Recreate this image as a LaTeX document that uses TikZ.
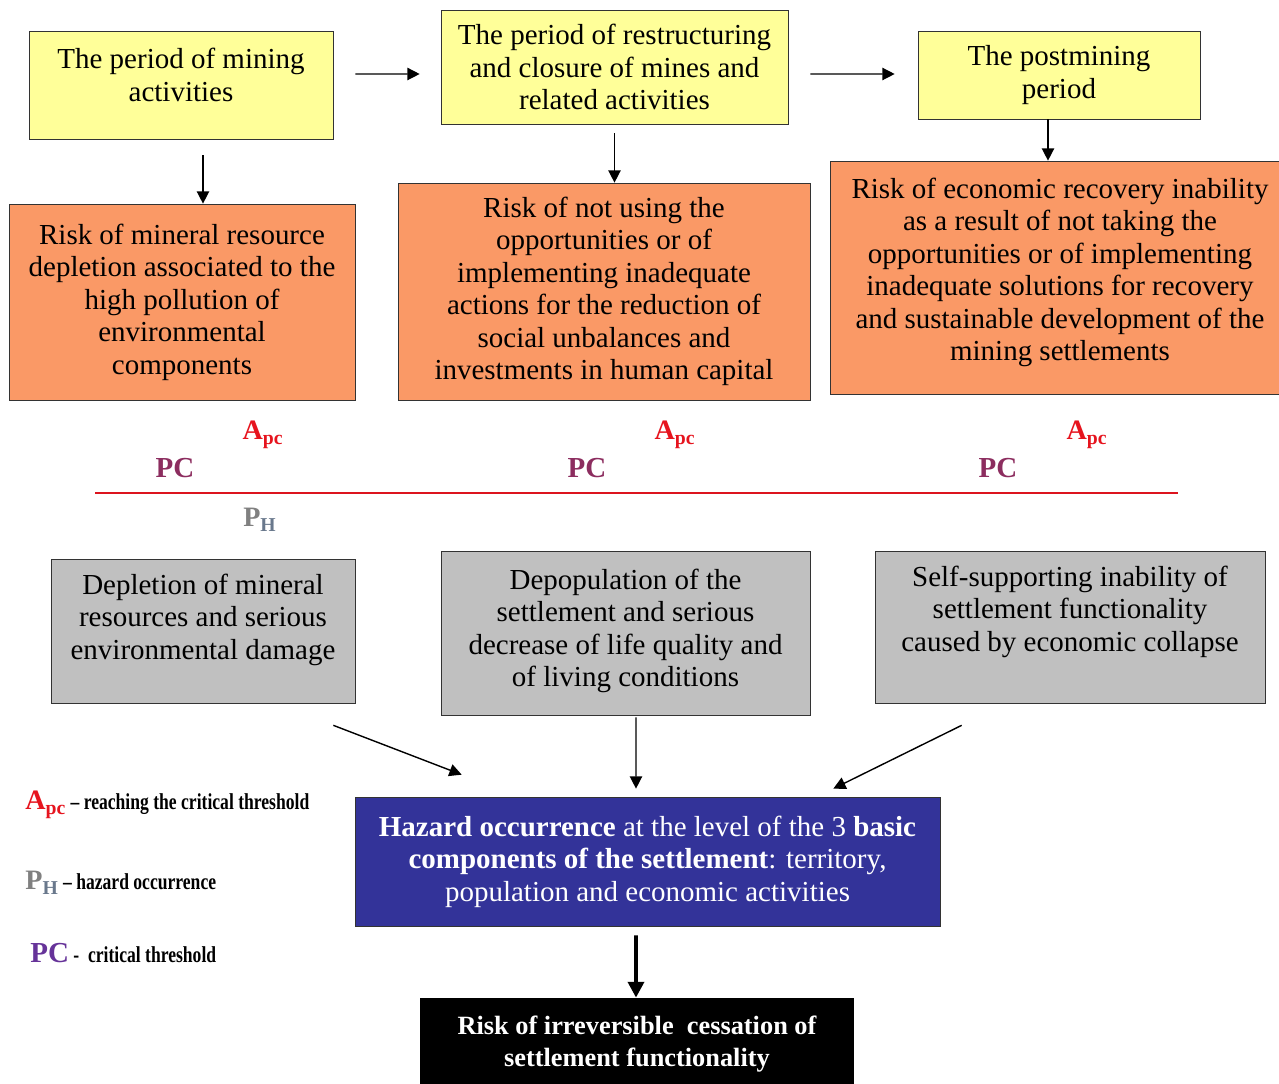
\documentclass[tikz,border=0pt]{standalone}
\usepackage{fontspec}
\setmainfont{Liberation Serif}
\newfontfamily\legendfont[FakeStretch=0.77]{Liberation Serif}
\usetikzlibrary{arrows.meta}

\definecolor{periodyellow}{RGB}{255,255,153}
\definecolor{riskorange}{RGB}{250,153,102}
\definecolor{outcomegrey}{RGB}{192,192,192}
\definecolor{hazardblue}{RGB}{51,51,153}
\definecolor{apcred}{RGB}{230,20,30}
\definecolor{pcmaroon}{RGB}{140,45,95}
\definecolor{pcpurple}{RGB}{102,51,153}
\definecolor{phgrey}{RGB}{128,128,128}
\definecolor{phblue}{RGB}{105,120,140}
\definecolor{linered}{RGB}{220,20,30}

\newcommand{\boxfont}{\fontsize{16.5}{18.5}\selectfont}

\begin{document}
\begin{tikzpicture}[x=0.02cm, y=-0.02cm,
	period/.style={draw=black!80, fill=periodyellow, align=center, inner sep=0pt, font=\boxfont},
	risk/.style={draw=black!80, fill=riskorange, align=center, inner sep=0pt, font=\boxfont},
	outcome/.style={draw=black!80, fill=outcomegrey, align=center, inner sep=0pt, font=\boxfont},
	arrow/.style={->, >={Stealth[length=7pt, width=7pt, inset=0pt]}, thick},
	apclabel/.style={text=apcred, font=\bfseries\fontsize{16}{18}\selectfont},
	pclabel/.style={text=pcmaroon, font=\bfseries\fontsize{16.5}{18}\selectfont},
	phlabel/.style={text=phgrey, font=\bfseries\fontsize{16}{18}\selectfont},
	legend/.style={anchor=west, inner sep=0pt, font=\legendfont\bfseries\fontsize{13}{15}\selectfont}]
	\useasboundingbox (0,0) rectangle (1279,1084);

	% periods
	\node[period, minimum width=6.08cm, minimum height=2.16cm, text depth=0.4cm] (mining) at (181,85) {The period of mining\\activities};
	\node[period, minimum width=6.94cm, minimum height=2.28cm] (restructuring) at (614.5,67) {The period of restructuring\\and closure of mines and\\related activities};
	\node[period, minimum width=5.64cm, minimum height=1.76cm] (postmining) at (1059,75) {The postmining\\period};

	% risks
	\node[risk, minimum width=6.92cm, minimum height=3.92cm] (mineral) at (182,302) {Risk of mineral resource\\depletion associated to the\\high pollution of\\environmental\\components};
	\node[risk, minimum width=8.24cm, minimum height=4.34cm] (nonuse) at (604,291.5) {Risk of not using the\\opportunities or of\\implementing inadequate\\actions for the reduction of\\social unbalances and\\investments in human capital};
	\node[risk, minimum width=9.2cm, minimum height=4.66cm, text depth=0.33cm] (recovery) at (1060,277.5) {Risk of economic recovery inability\\as a result of not taking the\\opportunities or of implementing\\inadequate solutions for recovery\\and sustainable development of the\\mining settlements};

	\draw[arrow] ([xshift=0.44cm, yshift=0.22cm]mining.east) -- ([xshift=-0.42cm, yshift=-0.14cm]restructuring.west);
	\draw[arrow] ([xshift=0.44cm, yshift=-0.14cm]restructuring.east) -- ([xshift=-0.46cm, yshift=0.02cm]postmining.west);
	\draw[arrow] ([xshift=0.44cm, yshift=-0.32cm]mining.south) -- ([xshift=0.42cm]mineral.north);
	\draw[arrow] ([yshift=-0.18cm]restructuring.south) -- (restructuring.south |- nonuse.north);
	\draw[arrow] ([xshift=-0.22cm]postmining.south) -- ([xshift=-0.22cm]postmining.south |- recovery.north);

	% critical threshold
	\coordinate (lineL) at (95,493);
	\coordinate (lineR) at (1178,493);
	\draw[linered, line width=1.7pt] (lineL) -- (lineR);
	\node[apclabel] (apc1) at (263,435) {A\textsubscript{pc}};
	\node[apclabel] (apc2) at (675,435) {A\textsubscript{pc}};
	\node[apclabel] (apc3) at (1087,435) {A\textsubscript{pc}};
	\node[pclabel] (pc1) at (175,468) {PC};
	\node[pclabel] (pc2) at (587,468) {PC};
	\node[pclabel] (pc3) at (998,468) {PC};
	\node[phlabel] (ph1) at (260,520) {P\textsubscript{\textcolor{phblue}{H}}};

	% outcomes
	\node[outcome, minimum width=6.08cm, minimum height=2.88cm, text depth=0.57cm] (depletion) at (203,631) {Depletion of mineral\\resources and serious\\environmental damage};
	\node[outcome, minimum width=7.38cm, minimum height=3.28cm, text depth=0.2cm] (depopulation) at (625.5,633) {Depopulation of the\\settlement and serious\\decrease of life quality and\\of living conditions};
	\node[outcome, minimum width=7.8cm, minimum height=3.04cm, text depth=0.73cm] (collapse) at (1070,627) {Self-supporting inability of\\settlement functionality\\caused by economic collapse};

	\node[draw=black!80, fill=hazardblue, text=white, align=center, inner sep=0pt, font=\boxfont,
		minimum width=11.7cm, minimum height=2.58cm] (hazard) at (647.5,861.5)
		{\textbf{Hazard occurrence} at the level of the 3 \textbf{basic}\\\textbf{components of the settlement}: territory,\\population and economic activities};
	\node[fill=black, text=white, align=center, inner sep=0pt, font=\bfseries\fontsize{15}{18.5}\selectfont,
		minimum width=8.68cm, minimum height=1.84cm] (cessation) at (637,1044)
		{Risk of irreversible\ \ cessation of\\settlement functionality};

	\draw[arrow] ([xshift=-0.44cm, yshift=-0.44cm]depletion.south east) -- ([xshift=2.14cm, yshift=0.44cm]hazard.north west);
	\draw[arrow] ([xshift=0.21cm, yshift=-0.04cm]depopulation.south) -- ([xshift=-0.23cm, yshift=0.16cm]hazard.north);
	\draw[arrow] ([xshift=1.74cm, yshift=-0.44cm]collapse.south west) -- ([xshift=-2.14cm, yshift=0.16cm]hazard.north east);
	\draw[->, >={Stealth[length=9pt, width=9pt, inset=0pt]}, line width=2.2pt] ([xshift=-0.23cm, yshift=-0.18cm]hazard.south) -- ([xshift=-0.02cm]cessation.north);

	% legend
	\node[legend] (legapc) at (25,805) {\textcolor{apcred}{\normalfont\bfseries\fontsize{16}{18}\selectfont A\textsubscript{pc}} – reaching the critical threshold};
	\node[legend] (legph) at (25,883) {\textcolor{phgrey}{\normalfont\bfseries\fontsize{16}{18}\selectfont P\textsubscript{\textcolor{phblue}{H}}} – hazard occurrence};
	\node[legend] (legpc) at (30,953) {\textcolor{pcpurple}{\normalfont\bfseries\fontsize{16.5}{18}\selectfont PC} - \ critical threshold};
\end{tikzpicture}
\end{document}
